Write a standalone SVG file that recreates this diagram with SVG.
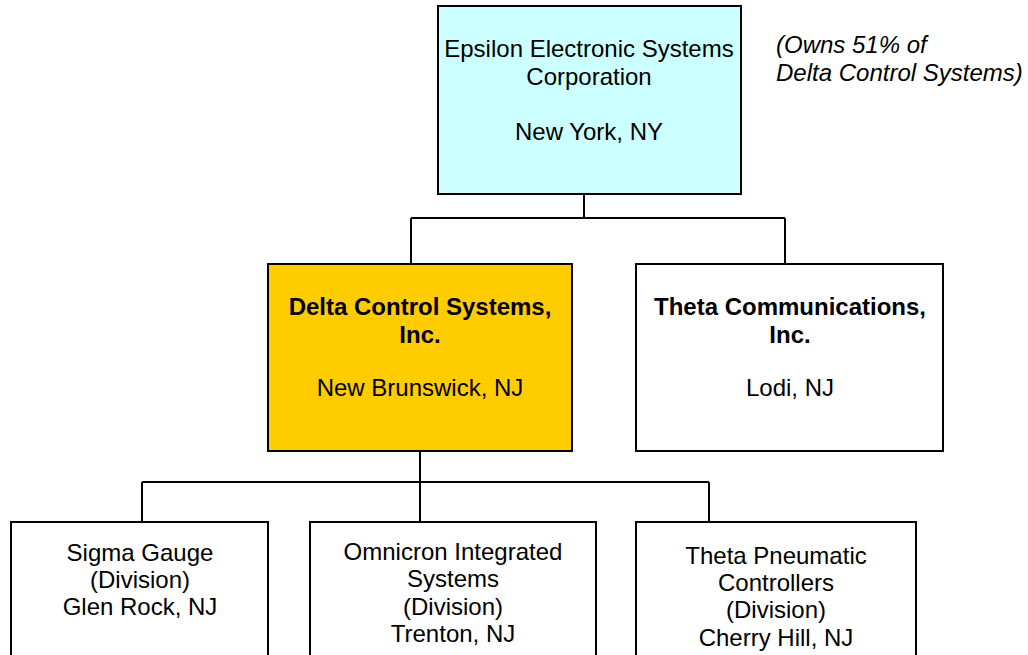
<svg xmlns="http://www.w3.org/2000/svg" width="1028" height="655" viewBox="0 0 1028 655">
  <style>
    .box { stroke: #000; stroke-width: 2; }
    .plain { fill: #fff; }
    .parent { fill: #ccffff; }
    .sub { fill: #ffcc00; }
    .wire { fill: none; stroke: #000; stroke-width: 2; }
    text { font-family: "Liberation Sans", Arial, sans-serif; font-size: 24px; fill: #000; text-anchor: middle; }
    .b { font-weight: bold; }
    .note { font-style: italic; text-anchor: start; }
  </style>
  <rect width="1028" height="655" fill="#fff"/>

  <!-- connectors -->
  <g id="connectors">
    <path class="wire" d="M584 194 V218 M411 218 H785 M411 218 V263 M785 218 V263"/>
    <path class="wire" d="M420 451 V482 M142 482 H709 M142 482 V522 M420 482 V522 M709 482 V522"/>
  </g>

  <g id="epsilon">
    <rect class="box parent" x="438" y="6" width="303" height="188"/>
    <text x="589" y="57">Epsilon Electronic Systems</text>
    <text x="589" y="85">Corporation</text>
    <text x="589" y="140">New York, NY</text>
  </g>

  <g id="ownership-note">
    <text class="note" x="776" y="53">(Owns 51% of</text>
    <text class="note" x="776" y="81">Delta Control Systems)</text>
  </g>

  <g id="delta">
    <rect class="box sub" x="268" y="264" width="304" height="187"/>
    <text class="b" x="420" y="315">Delta Control Systems,</text>
    <text class="b" x="420" y="343">Inc.</text>
    <text x="420" y="396">New Brunswick, NJ</text>
  </g>

  <g id="theta-comm">
    <rect class="box plain" x="636" y="264" width="307" height="187"/>
    <text class="b" x="790" y="315">Theta Communications,</text>
    <text class="b" x="790" y="343">Inc.</text>
    <text x="790" y="396">Lodi, NJ</text>
  </g>

  <g id="sigma">
    <rect class="box plain" x="11" y="522" width="257" height="150"/>
    <text x="140" y="561">Sigma Gauge</text>
    <text x="140" y="588">(Division)</text>
    <text x="140" y="615">Glen Rock, NJ</text>
  </g>

  <g id="omnicron">
    <rect class="box plain" x="310" y="522" width="286" height="150"/>
    <text x="453" y="560">Omnicron Integrated</text>
    <text x="453" y="587">Systems</text>
    <text x="453" y="615">(Division)</text>
    <text x="453" y="642">Trenton, NJ</text>
  </g>

  <g id="theta-pneumatic">
    <rect class="box plain" x="636" y="522" width="280" height="150"/>
    <text x="776" y="564">Theta Pneumatic</text>
    <text x="776" y="591">Controllers</text>
    <text x="776" y="618">(Division)</text>
    <text x="776" y="646">Cherry Hill, NJ</text>
  </g>
</svg>
